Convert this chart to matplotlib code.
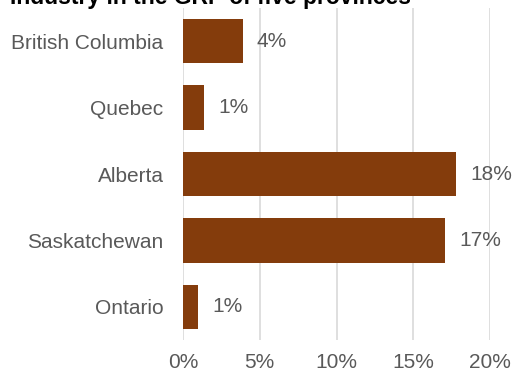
import matplotlib
matplotlib.use('Agg')
import matplotlib.pyplot as plt

plt.rcParams['font.family'] = ['Liberation Sans', 'DejaVu Sans']

provinces = ["British Columbia", "Quebec", "Alberta", "Saskatchewan", "Ontario"]
shares = [3.9, 1.4, 17.8, 17.1, 1.0]
share_labels = ["4%", "1%", "18%", "17%", "1%"]
xticks = [0, 5, 10, 15, 20]
xtick_labels = ["0%", "5%", "10%", "15%", "20%"]

bar_color = "#843C0C"
text_color = "#595959"

fig = plt.figure(figsize=(5.12, 3.71), dpi=100)
# plot area in figure fractions
ax = fig.add_axes([183 / 512, 1 - 340 / 371, 307 / 512, 332 / 371])

ypos = list(range(len(provinces)))
bars = ax.barh(ypos, shares, height=0.67, color=bar_color, zorder=3)
ax.bar_label(bars, labels=share_labels, padding=10, fontsize=15, color=text_color)

ax.set_ylim(len(provinces) - 0.5, -0.5)
ax.set_yticks(ypos)
ax.set_yticklabels(provinces, fontsize=15, color=text_color)
ax.set_xlim(0, 20)
ax.set_xticks(xticks)
ax.set_xticklabels(xtick_labels, fontsize=15, color=text_color)
ax.tick_params(length=0)
ax.tick_params(axis='x', pad=9.5)
ax.tick_params(axis='y', pad=14)
ax.grid(axis='x', color="#D9D9D9", linewidth=1.2, zorder=0)
for s in ax.spines.values():
    s.set_visible(False)

fig.text(0.411, 1 - 4 / 371, "Industry in the GRP of five provinces", ha='center',
         va='baseline', fontsize=16.5, fontweight='bold', color="#000000")

fig.savefig("out.png", dpi=100)
